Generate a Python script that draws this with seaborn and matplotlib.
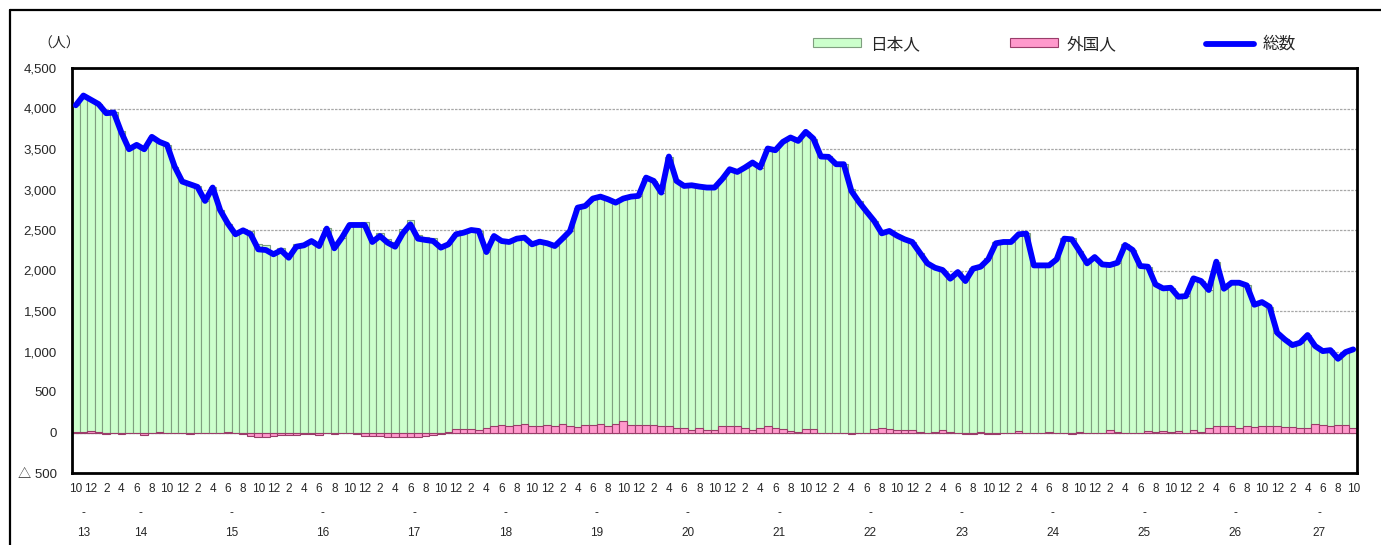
import numpy as np
import matplotlib
matplotlib.use("Agg")
import matplotlib.pyplot as plt
import seaborn as sns
from matplotlib.patches import Patch
from matplotlib.lines import Line2D
from matplotlib import transforms

# ---- data (monthly, H13/10 .. H27/10) ----
total = np.array([
    4040, 4160, 4107, 4054, 3942, 3950, 3703, 3497, 3551, 3497,
    3650, 3588, 3551, 3283, 3098, 3065, 3032, 2859, 3024, 2743,
    2579, 2447, 2496, 2447, 2261, 2253, 2200, 2249, 2158, 2294,
    2311, 2364, 2302, 2517, 2274, 2406, 2562, 2562, 2562, 2352,
    2426, 2344, 2294, 2459, 2570, 2393, 2377, 2364, 2282, 2323,
    2447, 2467, 2500, 2488, 2228, 2426, 2364, 2352, 2393, 2406,
    2323, 2356, 2336, 2302, 2393, 2488, 2776, 2797, 2888, 2912,
    2879, 2838, 2888, 2912, 2921, 3147, 3106, 2962, 3407, 3106,
    3044, 3052, 3036, 3024, 3024, 3127, 3250, 3217, 3271, 3333,
    3271, 3506, 3485, 3588, 3642, 3600, 3712, 3629, 3407, 3403,
    3312, 3312, 2982, 2846, 2727, 2612, 2459, 2488, 2430, 2385,
    2352, 2220, 2088, 2034, 2006, 1899, 1981, 1870, 2022, 2047,
    2138, 2336, 2352, 2352, 2447, 2455, 2063, 2063, 2063, 2138,
    2393, 2385, 2241, 2088, 2166, 2075, 2067, 2096, 2315, 2253,
    2055, 2047, 1828, 1779, 1787, 1676, 1684, 1903, 1870, 1759,
    2109, 1775, 1849, 1849, 1816, 1577, 1610, 1553, 1232, 1149,
    1079, 1108, 1203, 1067, 1005, 1017, 910, 993, 1026])

foreign = np.array([
    5, 10, 20, 5, -15, -10, -20, 0, -10, -25,
    0, 5, 0, 0, -5, -15, -10, -5, -10, -10,
    10, -5, -20, -45, -60, -60, -45, -30, -35, -30,
    -20, -15, -35, -5, -15, 0, -5, -15, -40, -45,
    -40, -50, -55, -50, -50, -50, -40, -35, -20, 10,
    45, 45, 45, 35, 50, 75, 90, 80, 95, 110,
    75, 75, 95, 85, 110, 85, 65, 95, 95, 110,
    80, 110, 140, 90, 95, 95, 95, 85, 85, 60,
    50, 35, 50, 30, 35, 85, 85, 75, 60, 35,
    60, 80, 50, 40, 20, 10, 45, 40, -5, -10,
    0, 0, -20, -10, 0, 40, 60, 45, 35, 35,
    35, 10, -10, 10, 35, 10, 0, -15, -15, 10,
    -20, -15, 0, 0, 20, -5, 0, 0, 10, 0,
    -10, -20, 10, -5, -5, 0, 35, 10, -10, -5,
    -10, 20, 10, 20, 5, 20, 0, 35, 10, 60,
    75, 80, 80, 60, 85, 70, 80, 80, 85, 70,
    70, 50, 60, 105, 95, 80, 95, 90, 60])

japanese = total - foreign

start_year, start_month = 13, 10
year_labels = ['13', '14', '15', '16', '17', '18', '19', '20', '21', '22',
               '23', '24', '25', '26', '27']
ytick_values = [-500, 0, 500, 1000, 1500, 2000, 2500, 3000, 3500, 4000, 4500]
ytick_labels = ['△ 500', '0', '500', '1,000', '1,500', '2,000', '2,500',
                '3,000', '3,500', '4,000', '4,500']
series_names = ['日本人', '外国人', '総数']

n = len(total)
idx = np.arange(n)
months = [(start_month - 1 + i) % 12 + 1 for i in range(n)]
years = [start_year + (start_month - 1 + i) // 12 for i in range(n)]

# ---- style ----
sns.set_style("white")
plt.rcParams['font.family'] = ['Liberation Sans', 'Noto Sans CJK JP', 'DejaVu Sans']

W, H = 1381, 545
fig = plt.figure(figsize=(W / 100, H / 100), dpi=100)
L, R, T, B = 72, 1357, 68, 473
ax = fig.add_axes([L / W, 1 - B / H, (R - L) / W, (B - T) / H])

GREEN, GREEN_EDGE = '#CCFFCC', '#7F9F7F'
PINK, PINK_EDGE = '#FF99CC', '#9A3D6A'
BLUE = '#0000FF'

# green bar spans from 0 (or from foreign if positive; pink overdraws that part)
green_h = np.maximum(japanese, total)
sns.barplot(x=idx, y=green_h, native_scale=True, width=1.0, color=GREEN,
            saturation=1, edgecolor=GREEN_EDGE, linewidth=0.8, errorbar=None, ax=ax)
sns.barplot(x=idx, y=foreign, native_scale=True, width=1.0, color=PINK,
            saturation=1, edgecolor=PINK_EDGE, linewidth=0.8, errorbar=None, ax=ax)
sns.lineplot(x=idx, y=total, color=BLUE, linewidth=4.2, ax=ax, zorder=5)

ax.set_xlim(-0.5, n - 0.5)
ax.set_ylim(-500, 4500)
ax.set_xlabel('')
ax.set_ylabel('')
ax.set_axisbelow(True)
ax.yaxis.grid(True, color='#a8a8a8', linestyle=(0, (2, 1)), linewidth=0.9)
ax.xaxis.grid(False)

ax.set_yticks(ytick_values)
ax.set_yticklabels(ytick_labels, fontsize=9.5)
ax.set_xticks(idx[::2])
ax.set_xticklabels([str(months[i]) for i in idx[::2]], fontsize=8.5)
ax.tick_params(axis='y', length=0, pad=11)
ax.tick_params(axis='x', length=0, pad=7)

for s in ax.spines.values():
    s.set_visible(True)
    s.set_color('black')
    s.set_linewidth(2)

# year row with dash markers
trans = transforms.blended_transform_factory(ax.transData, ax.transAxes)
for y in year_labels:
    members = [i for i in idx if years[i] == int(y)]
    cx = (members[0] + members[-1]) / 2
    ax.text(cx, (B - 513) / (B - T), '-', transform=trans, ha='center', va='center', fontsize=8.5)
    ax.text(cx, (B - 533) / (B - T), y, transform=trans, ha='center', va='center', fontsize=8.5)

# unit label
fig.text(38 / W, 1 - 44 / H, '（人）', fontsize=10, va='center', ha='left')

# legend
handles = [Patch(facecolor=GREEN, edgecolor=GREEN_EDGE, linewidth=0.8),
           Patch(facecolor=PINK, edgecolor=PINK_EDGE, linewidth=0.8),
           Line2D([0], [0], color=BLUE, linewidth=4.2)]
fig.legend(handles, series_names, loc='center left',
           bbox_to_anchor=(813 / W, 1 - 44 / H), ncol=3, frameon=False,
           fontsize=12, handlelength=2.9, handletextpad=0.5, columnspacing=5.4,
           handleheight=0.45, borderpad=0, borderaxespad=0)

# outer frame (top and left edges)
fig.add_artist(Line2D([10 / W, 1.0], [1 - 10 / H, 1 - 10 / H], color='black', linewidth=1.6))
fig.add_artist(Line2D([10 / W, 10 / W], [0, 1 - 10 / H], color='black', linewidth=1.6))

fig.savefig('out.png', dpi=100)
